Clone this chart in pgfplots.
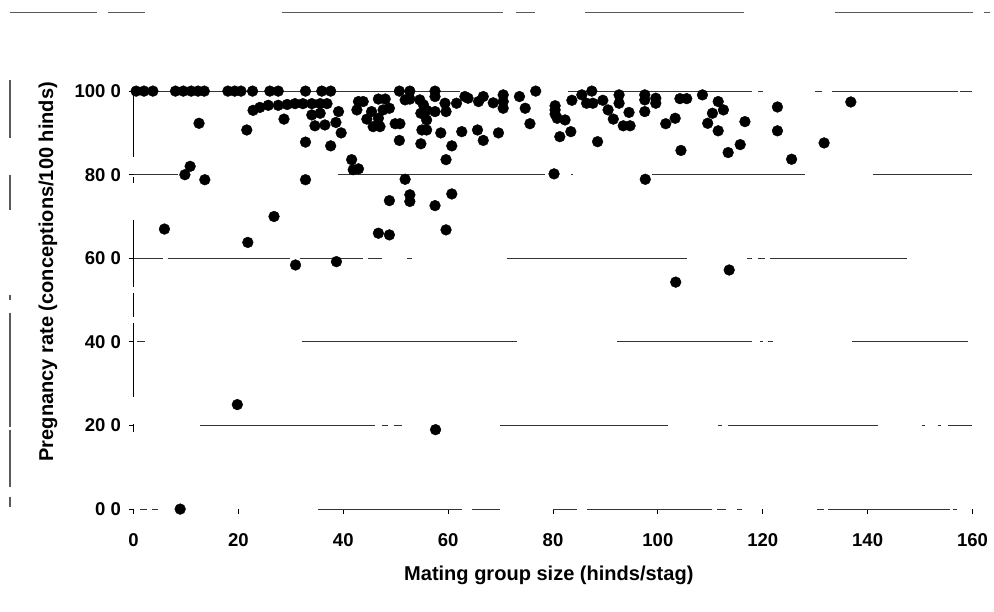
\documentclass[border=0pt]{standalone}
\usepackage{fontspec}
\setmainfont{Liberation Sans}
\usepackage{pgfplots}
\pgfplotsset{compat=1.18}

\tikzset{
  gl/.style={line width=1.1bp,black!80},
  scan/.style={line width=1.1bp,black!65},
}

\begin{document}
\begin{tikzpicture}
\begin{axis}[
  x=5.244bp, y=4.18bp,
  xmin=0, xmax=160, ymin=0, ymax=100,
  clip=false,
  axis lines*=left,
  axis line style={draw=none},
  xtick={0,20,...,160},
  xticklabels={0,20,40,60,80,100,120,140,160},
  ytick={0,20,...,100},
  yticklabels={0 0,20 0,40 0,60 0,80 0,100 0},
  tick align=outside,
  major tick length=5bp,
  tick style={line width=0.9bp,black},
  tick label style={font=\fontsize{18.6}{22}\selectfont\bfseries},
  xticklabel style={yshift=-16bp},
  yticklabel style={xshift=-4bp},
]
% frame of the whole page
\path (axis cs:-25.46,-24.57) rectangle (axis cs:164.1,121.8);

% broken gridlines as in the scan
\draw[gl] (axis cs:0,100)--(axis cs:62.3,100) (axis cs:82.9,100)--(axis cs:117.9,100)
  (axis cs:119.1,100)--(axis cs:120,100) (axis cs:129.9,100)--(axis cs:131.3,100)
  (axis cs:133.2,100)--(axis cs:157.2,100) (axis cs:157.6,100)--(axis cs:159.9,100);
\draw[gl] (axis cs:0,80)--(axis cs:8.5,80) (axis cs:39,80)--(axis cs:78.5,80)
  (axis cs:83.4,80)--(axis cs:83.8,80) (axis cs:98.9,80)--(axis cs:128,80)
  (axis cs:141,80)--(axis cs:159.9,80);
\draw[gl] (axis cs:0,60)--(axis cs:5.6,60) (axis cs:6.6,60)--(axis cs:29.8,60)
  (axis cs:31.7,60)--(axis cs:43.8,60) (axis cs:44.7,60)--(axis cs:47.4,60)
  (axis cs:52.2,60)--(axis cs:53.1,60) (axis cs:71.2,60)--(axis cs:105.6,60)
  (axis cs:117,60)--(axis cs:118,60) (axis cs:119,60)--(axis cs:120.5,60)
  (axis cs:121.4,60)--(axis cs:147.5,60);
\draw[gl] (axis cs:0.7,40)--(axis cs:2.2,40) (axis cs:32.1,40)--(axis cs:73.1,40)
  (axis cs:92.2,40)--(axis cs:118,40) (axis cs:119.5,40)--(axis cs:120,40)
  (axis cs:121,40)--(axis cs:121.9,40) (axis cs:137,40)--(axis cs:159.1,40);
\draw[gl] (axis cs:12.7,20)--(axis cs:46,20) (axis cs:47.4,20)--(axis cs:48.6,20)
  (axis cs:49.6,20)--(axis cs:51.2,20) (axis cs:69.9,20)--(axis cs:101.9,20)
  (axis cs:111.5,20)--(axis cs:112.2,20) (axis cs:113.4,20)--(axis cs:141.97,20)
  (axis cs:150.4,20)--(axis cs:150.9,20) (axis cs:153.5,20)--(axis cs:154,20)
  (axis cs:155.4,20)--(axis cs:159.9,20);
\draw[gl] (axis cs:1.2,0)--(axis cs:2.5,0) (axis cs:3.5,0)--(axis cs:4.7,0)
  (axis cs:35.2,0)--(axis cs:62.6,0) (axis cs:64.5,0)--(axis cs:69.9,0)
  (axis cs:80,0)--(axis cs:84.6,0) (axis cs:86.5,0)--(axis cs:110.3,0)
  (axis cs:111.3,0)--(axis cs:113,0) (axis cs:115,0)--(axis cs:116,0)
  (axis cs:130.3,0)--(axis cs:131.6,0) (axis cs:132.5,0)--(axis cs:155.7,0)
  (axis cs:156.3,0)--(axis cs:157,0);

% broken y axis line
\draw[line width=1.2bp,black] (axis cs:0,101)--(axis cs:0,84.3)
  (axis cs:0,79.5)--(axis cs:0,78) (axis cs:0,69.2)--(axis cs:0,53.2)
  (axis cs:0,51.7)--(axis cs:0,46) (axis cs:0,44.6)--(axis cs:0,26.9)
  (axis cs:0,20.4)--(axis cs:0,18.5);

% scanner streaks at the edges
\draw[scan] (axis cs:-23.55,102.7)--(axis cs:-23.55,88.9)
  (axis cs:-23.55,80)--(axis cs:-23.55,71.6) (axis cs:-23.55,51.3)--(axis cs:-23.55,50.1)
  (axis cs:-23.55,47)--(axis cs:-23.55,19.7) (axis cs:-23.55,19)--(axis cs:-23.55,5.3)
  (axis cs:-23.55,2.9)--(axis cs:-23.55,0.6);
\draw[scan] (axis cs:-23.55,118.7)--(axis cs:-6.9,118.7) (axis cs:-4.9,118.7)--(axis cs:2.2,118.7)
  (axis cs:28.3,118.7)--(axis cs:70.5,118.7) (axis cs:72.9,118.7)--(axis cs:76.6,118.7)
  (axis cs:86.1,118.7)--(axis cs:116.4,118.7) (axis cs:133.8,118.7)--(axis cs:160.1,118.7)
  (axis cs:162.2,118.7)--(axis cs:163.3,118.7);

\addplot[only marks, mark=*, mark size=5.4bp, black] coordinates {
  (0.5,100) (2,100) (3.7,100) (8,100) (9.5,100) (11,100) (12.3,100) (13.5,100)
  (18,100) (19.3,100) (20.5,100) (22.7,100) (26,100) (27.6,100) (32.8,100)
  (35.9,100) (37.6,100) (50.7,100) (52.7,100) (57.5,100) (76.7,100) (87.4,100)
  (22.8,95.4) (24.1,96.1) (25.7,96.6) (27.6,96.6) (29.3,96.8) (30.8,97)
  (32.3,97) (34,97) (35.6,97) (36.9,97)
  (12.5,92.3) (21.6,90.7) (28.7,93.3) (34,94.3) (35.6,94.7) (39.1,95.1)
  (34.6,91.7) (36.5,91.9) (38.6,92.5) (39.6,90) (32.8,87.8) (37.6,86.9)
  (10.8,82) (9.8,80) (13.6,78.8) (32.8,78.8) (26.8,70) (5.9,67)
  (42.9,97.5) (43.8,97.5) (46.7,98.1) (48,98.1) (51.8,97.9) (52.7,98.1)
  (54.6,97.9) (55.3,96.7) (55.9,95.4) (57.5,98.7) (59.4,97.1) (61.6,97.1)
  (63.2,98.7) (63.8,98.3) (65.8,97.5) (66.7,98.7) (68.6,97.2) (70.5,99.1)
  (70.5,97.5) (70.5,95.9) (73.6,98.7) (74.7,95.9) (75.6,92.2)
  (42.6,95.5) (44.5,93.3) (45.4,95.1) (45.7,91.5) (47,91.5) (46.7,93.5)
  (47.6,95.5) (48.8,95.9) (49.9,92.2) (50.8,92.2) (50.7,88.2) (54.8,94.7)
  (55.9,93.1) (55,90.7) (55.9,90.7) (54.8,87.4) (57.5,95.1) (59.6,95.1)
  (58.6,90) (60.7,86.9) (59.6,83.6) (62.6,90.3) (65.6,90.7) (66.7,88.2) (69.6,90)
  (41.6,83.6) (41.9,81.2) (42.9,81.4) (51.8,78.9) (48.8,73.8) (52.7,75.2)
  (52.7,73.6) (57.5,72.6) (60.7,75.4) (46.7,66) (48.8,65.6) (59.6,66.8)
  (80.4,96.5) (80.4,95.5) (80.4,94.5) (80.8,93.5) (82.3,93.1) (81.3,89.1)
  (83.4,90.3) (83.6,97.8) (85.5,99.1) (86.4,97.1) (87.6,97.1) (89.5,97.8)
  (90.5,95.5) (91.5,93.3) (92.6,99.1) (92.6,97.1) (94.5,94.9) (93.4,91.7)
  (94.7,91.7) (88.5,87.9) (97.5,99.1) (97.5,97.9) (99.6,98.3) (99.6,97.1)
  (97.5,95.1) (101.5,92.2) (103.3,93.5) (104.2,98.2) (105.5,98.2) (104.4,85.8)
  (108.5,99.1) (111.5,97.5) (112.5,95.5) (110.4,94.7) (109.5,92.3) (111.5,90.5)
  (116.6,92.7) (113.4,85.3) (115.7,87.2) (80.2,80.2) (97.6,78.9)
  (122.8,96.2) (122.8,90.5) (131.7,87.6) (125.5,83.7) (136.8,97.4)
  (103.4,54.3) (113.6,57.2)
  (21.8,63.8) (30.9,58.4) (38.7,59.2) (19.8,25) (57.6,19) (8.9,0)
};

\node[rotate=90, font=\fontsize{20.1}{24}\selectfont\bfseries] at (axis cs:-16.3,56.8)
  {Pregnancy rate (conceptions/100 hinds)};
\node[font=\fontsize{20.1}{24}\selectfont\bfseries] at (axis cs:79.2,-15.96)
  {Mating group size (hinds/stag)};
\end{axis}
\end{tikzpicture}
\end{document}
